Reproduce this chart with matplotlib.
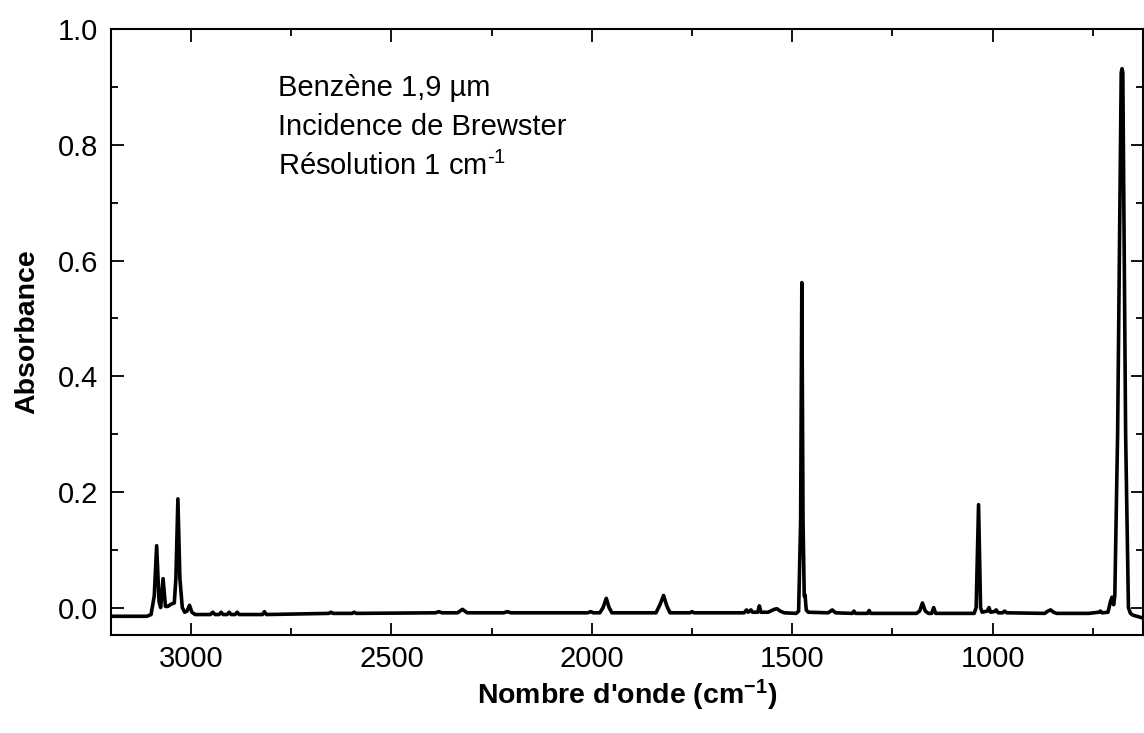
import matplotlib
matplotlib.use("Agg")
import matplotlib.pyplot as plt
from matplotlib.ticker import MultipleLocator, FormatStrFormatter

# Spectrum vertices (wavenumber cm-1, absorbance)
wavenumber = [
    3200, 3110, 3100, 3092, 3086, 3080, 3076, 3070, 3064, 3058, 3050, 3042,
    3038, 3033, 3028, 3022, 3016, 3010, 3004, 2998, 2990,
    2952, 2946, 2940, 2930, 2925, 2920, 2910, 2905, 2900, 2890, 2885, 2880,
    2822, 2817, 2812, 2656, 2651, 2646, 2598, 2593, 2588,
    2390, 2382, 2374, 2335, 2323, 2311, 2220, 2211, 2202, 2010, 2003, 1996,
    1980, 1972, 1964, 1957, 1950, 1840, 1830, 1821, 1813, 1805,
    1755, 1750, 1745, 1620, 1614, 1610, 1603, 1599, 1586, 1582, 1578,
    1560, 1545, 1538, 1530, 1520, 1490, 1484, 1479, 1476, 1473, 1470, 1468,
    1465, 1460, 1410, 1400, 1392, 1350, 1346, 1342, 1312, 1308, 1304,
    1190, 1182, 1175, 1168, 1160, 1152, 1147, 1142,
    1046, 1041, 1035, 1030, 1026, 1013, 1009, 1005, 996, 991, 986,
    975, 970, 965, 870, 862, 855, 848, 840,
    760, 735, 731, 727, 712, 706, 702, 698, 695, 688, 679, 677, 675,
    668, 661, 656, 650, 625,
]
absorbance = [
    -0.015, -0.015, -0.012, 0.02, 0.107, 0.01, 0.0, 0.05, 0.002, 0.002, 0.006, 0.008,
    0.05, 0.188, 0.05, 0.0, -0.008, -0.006, 0.004, -0.008, -0.012,
    -0.012, -0.008, -0.012, -0.012, -0.008, -0.012, -0.012, -0.008, -0.012, -0.012, -0.008, -0.012,
    -0.012, -0.007, -0.012, -0.010, -0.008, -0.010, -0.010, -0.008, -0.010,
    -0.009, -0.007, -0.009, -0.009, -0.003, -0.009, -0.009, -0.007, -0.009, -0.009, -0.007, -0.009,
    -0.009, 0.0, 0.016, 0.0, -0.009, -0.009, 0.005, 0.021, 0.003, -0.009,
    -0.009, -0.007, -0.009, -0.009, -0.004, -0.008, -0.004, -0.008, -0.008, 0.003, -0.008,
    -0.008, -0.003, -0.002, -0.006, -0.009, -0.010, -0.006, 0.15, 0.562, 0.15, 0.02, 0.022,
    -0.004, -0.008, -0.009, -0.004, -0.009, -0.010, -0.006, -0.010, -0.010, -0.005, -0.010,
    -0.010, -0.006, 0.008, -0.006, -0.010, -0.010, 0.0, -0.010,
    -0.010, 0.0, 0.178, 0.0, -0.008, -0.006, 0.0, -0.008, -0.007, -0.004, -0.009,
    -0.009, -0.006, -0.009, -0.010, -0.006, -0.004, -0.008, -0.010,
    -0.010, -0.008, -0.006, -0.009, -0.008, 0.010, 0.018, 0.005, 0.02, 0.3, 0.925, 0.932, 0.925,
    0.3, 0.0, -0.010, -0.013, -0.018,
]

annotation_lines = ["Benzène 1,9 µm", "Incidence de Brewster", r"Résolution 1 cm$^{\text{-1}}$"]

plt.rcParams["font.family"] = "Liberation Sans"
plt.rcParams["mathtext.fontset"] = "custom"
plt.rcParams["mathtext.rm"] = "Liberation Sans"
plt.rcParams["mathtext.it"] = "Liberation Sans"
plt.rcParams["mathtext.bf"] = "Liberation Sans:bold"

fig = plt.figure(figsize=(11.44, 7.33), dpi=100)
ax = fig.add_axes([0.097, 0.134, 0.902, 0.826])

ax.plot(wavenumber, absorbance, color="black", linewidth=2.6, solid_joinstyle="round")

ax.set_xlim(3200, 625)
ax.set_ylim(-0.047, 1.0)
ax.xaxis.set_major_locator(MultipleLocator(500))
ax.xaxis.set_minor_locator(MultipleLocator(250))
ax.yaxis.set_major_locator(MultipleLocator(0.2))
ax.yaxis.set_minor_locator(MultipleLocator(0.1))
ax.yaxis.set_major_formatter(FormatStrFormatter("%.1f"))

ax.tick_params(which="both", direction="in", top=True, right=True, width=1.3, labelsize=21)
ax.tick_params(which="major", length=9)
ax.tick_params(which="minor", length=5)
ax.tick_params(axis="x", which="major", pad=7)
ax.tick_params(axis="y", which="major", pad=9)
for spine in ax.spines.values():
    spine.set_linewidth(1.5)

ax.set_xlabel(r"Nombre d'onde (cm$^{\mathbf{-1}}$)", fontsize=20.5, fontweight="bold", labelpad=4)
ax.set_ylabel("Absorbance", fontsize=20.5, fontweight="bold", labelpad=13)

for i, line in enumerate(annotation_lines):
    ax.text(0.162, 0.903 - i * 0.065, line, transform=ax.transAxes,
            fontsize=21, va="center", ha="left")

fig.savefig("out.png", dpi=100)
